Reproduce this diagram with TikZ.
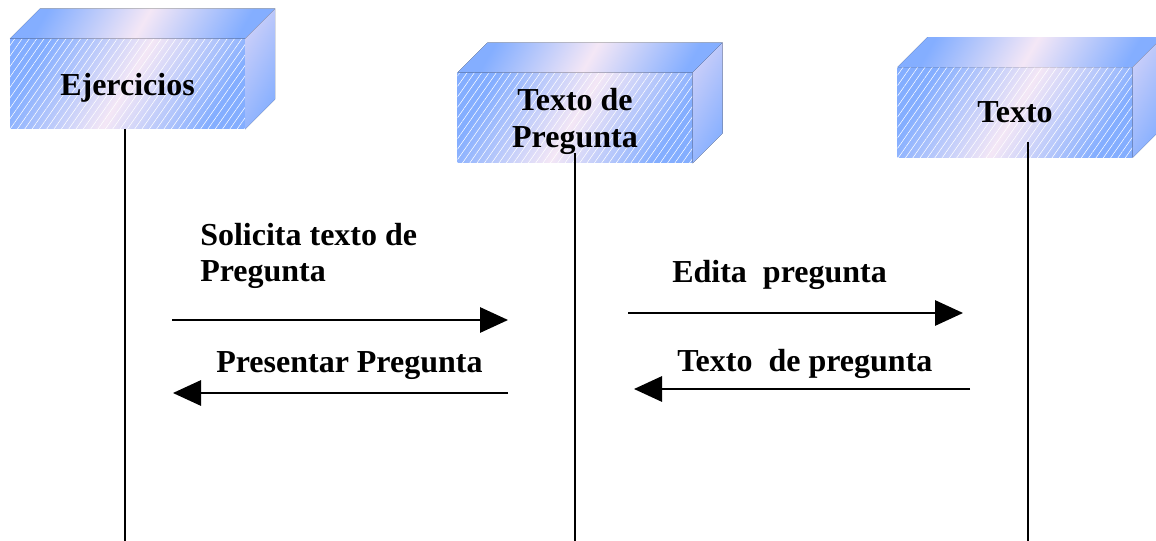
\documentclass[tikz,border=0pt]{standalone}
\usepackage{fontspec}
\setmainfont{Liberation Serif}
\usetikzlibrary{arrows.meta, patterns.meta}
\definecolor{azul}{HTML}{84AEFF}
\definecolor{rosa}{HTML}{F4E7F6}
\definecolor{lila}{HTML}{CBCFF9}
\begin{document}
\begin{tikzpicture}[x=0.75pt, y=-0.75pt,
  letra/.style={font=\fontsize{24}{27.5}\selectfont\bfseries},
  caja/.style={shape=rectangle, minimum width=176pt, minimum height=67.5pt, inner sep=0pt, letra,
    align=center, text depth=0pt,
    left color=azul, right color=azul, middle color=rosa, shading angle=60,
    postaction={pattern={Lines[angle=55, distance=4.5pt, line width=0.4pt]}, pattern color=white, fill opacity=0.2}},
  tapa/.style={left color=azul, right color=azul, middle color=rosa, shading angle=60},
  lado/.style={left color=lila, right color=azul, shading angle=60},
  vida/.style={line width=1.4pt},
  mensaje/.style={line width=1.4pt, -{Triangle[length=21pt, width=19pt]}},
  etiqueta/.style={inner sep=0pt, anchor=base west, align=left, letra}]
\useasboundingbox (0,0) rectangle (1156,541);
\node [caja] (ejercicios) at (127.5,84) {Ejercicios};
\node [caja] (textopreg) at (575,118) {Texto de \\ Pregunta};
\node [caja] (texto) at (1015,112.5) {Texto};
\foreach \n in {ejercicios, textopreg, texto} {
  \fill [tapa] (\n.north west) -- ++(30,-30) -- ([shift={(30,-30)}]\n.north east) -- (\n.north east) -- cycle;
  \fill [lado] (\n.north east) -- ++(30,-30) -- ([shift={(30,-30)}]\n.south east) -- (\n.south east) -- cycle;
}
\coordinate (v1) at (125,129);
\coordinate (v2) at (575,153);
\coordinate (v3) at (1028,142);
\coordinate (fin) at (0,541);
\draw [vida] (v1) -- (v1 |- fin);
\draw [vida] (v2) -- (v2 |- fin);
\draw [vida] (v3) -- (v3 |- fin);
\node [etiqueta] (solicita) at (200,282) {Solicita texto de \\ Pregunta};
\node [etiqueta] (presentar) at (216,373) {Presentar Pregunta};
\node [etiqueta] (edita) at (672,283) {Edita\ \ pregunta};
\node [etiqueta] (textode) at (677,372) {Texto\ \ de pregunta};
\coordinate (m1a) at (172,320);
\coordinate (m1b) at (508,320);
\coordinate (m2a) at (508,393);
\coordinate (m2b) at (173,393);
\coordinate (m3a) at (628,313);
\coordinate (m3b) at (963,313);
\coordinate (m4a) at (970,389);
\coordinate (m4b) at (634,389);
\draw [mensaje] (m1a) -- (m1b);
\draw [mensaje] (m2a) -- (m2b);
\draw [mensaje] (m3a) -- (m3b);
\draw [mensaje] (m4a) -- (m4b);
\end{tikzpicture}
\end{document}
